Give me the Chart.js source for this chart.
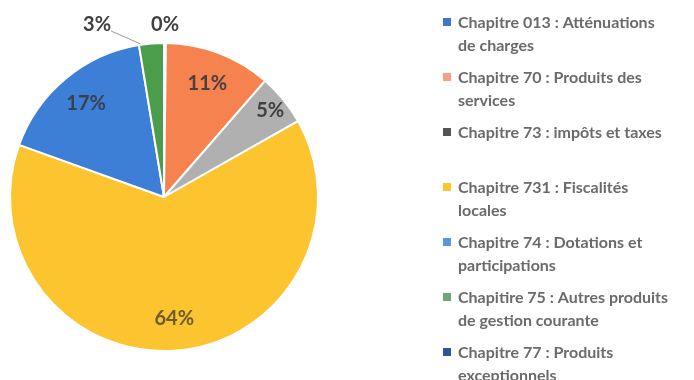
<!DOCTYPE html>
<html>
<head>
<meta charset="utf-8">
<script src="https://cdn.jsdelivr.net/npm/chart.js@4.4.0/dist/chart.umd.min.js"></script>
<style>
  html, body { margin: 0; padding: 0; background: #fff; }
  #wrap { width: 694px; height: 380px; position: relative; }
</style>
</head>
<body>
<div id="wrap"><canvas id="myChart" width="694" height="380"></canvas></div>
<script>
// données (en %)
var chapitres = ['Chapitre 013 : Atténuations de charges', 'Chapitre 70 : Produits des services',
    'Chapitre 73 : impôts et taxes', 'Chapitre 731 : Fiscalités locales',
    'Chapitre 74 : Dotations et participations', 'Chapitire 75 : Autres produits de gestion courante',
    'Chapitre 77 : Produits exceptionnels'];
var legendLines = [
    ['Chapitre 013 : Atténuations', 'de charges'],
    ['Chapitre 70 : Produits des', 'services'],
    ['Chapitre 73 : impôts et taxes', ''],
    ['Chapitre 731 : Fiscalités', 'locales'],
    ['Chapitre 74 : Dotations et', 'participations'],
    ['Chapitire 75 : Autres produits', 'de gestion courante'],
    ['Chapitre 77 : Produits', 'exceptionnels']
];
var valeurs = [0.2, 11.2, 5.4, 63.7, 16.9, 2.6, 0];
var couleurs = ['#3f74d2', '#f5824f', '#b0b0b0', '#fcc52f', '#3d7fd6', '#4b9c4b', '#2f5597'];
var legendCouleurs = ['#3f74d2', '#f7a088', '#555555', '#fcc52f', '#5b95e0', '#6fa86f', '#2f5597'];
var labelCouleurs = ['#404040', '#4a4040', '#404040', '#6e5a30', '#3a4050', '#404040', '#404040'];

// étiquettes de pourcentage
var pctLabels = {
    id: 'pctLabels',
    afterDatasetsDraw: function (chart) {
        var ctx = chart.ctx;
        var arcs = chart.getDatasetMeta(0).data;
        var data = chart.data.datasets[0].data;
        var total = data.reduce(function (a, b) { return a + b; }, 0);
        var placed = [];
        ctx.save();
        ctx.font = 'bold 20px Lato';
        ctx.textAlign = 'center';
        ctx.textBaseline = 'middle';
        arcs.forEach(function (arc, i) {
            if (data[i] <= 0) return;
            var pct = data[i] / total * 100;
            var txt = Math.round(pct) + '%';
            var mid = (arc.startAngle + arc.endAngle) / 2;
            var R = arc.outerRadius;
            var x, y;
            if (pct < 4) {
                x = arc.x + Math.cos(mid) * (R + 18);
                y = arc.y + Math.sin(mid) * (R + 18);
                var w = ctx.measureText(txt).width;
                placed.forEach(function (p) {
                    if (Math.abs(p.x - x) < (p.w + w) / 2 + 4 && Math.abs(p.y - y) < 20) {
                        x = p.x - p.w / 2 - 40 - w / 2;
                        y = p.y;
                        ctx.strokeStyle = '#9a9a9a';
                        ctx.lineWidth = 1;
                        ctx.beginPath();
                        ctx.moveTo(x + w / 2, y + 6);
                        ctx.lineTo(arc.x + Math.cos(arc.startAngle + 0.01) * (R + 1), arc.y + Math.sin(arc.startAngle + 0.01) * (R + 1));
                        ctx.stroke();
                    }
                });
                placed.push({ x: x, y: y, w: w });
            } else {
                var f = pct < 8 ? 0.89 : 0.79;
                x = arc.x + Math.cos(mid) * R * f;
                y = arc.y + Math.sin(mid) * R * f;
            }
            ctx.fillStyle = labelCouleurs[i];
            ctx.fillText(txt, x, y);
        });
        ctx.restore();
    }
};

// légende à droite, sur deux lignes
var legendeDroite = {
    id: 'legendeDroite',
    afterDraw: function (chart) {
        var ctx = chart.ctx;
        ctx.save();
        ctx.font = 'bold 16px Lato';
        ctx.textBaseline = 'alphabetic';
        ctx.textAlign = 'left';
        legendLines.forEach(function (lines, i) {
            var base = 28 + i * 55;
            ctx.fillStyle = legendCouleurs[i];
            ctx.fillRect(443, base - 10, 8, 8);
            ctx.fillStyle = '#6a6a6a';
            lines.forEach(function (l, j) {
                ctx.fillText(l, 458, base + j * 22.5);
            });
        });
        ctx.restore();
    }
};

var ctx = document.querySelector('#myChart');
var myPieChart = new Chart(ctx, {
    type: 'pie',
    data: {
        labels: chapitres,
        datasets: [{
            data: valeurs,
            backgroundColor: couleurs,
            borderColor: '#ffffff',
            borderWidth: 2,
            hoverOffset: 0
        }]
    },
    options: {
        responsive: false,
        animation: false,
        layout: { padding: { left: 9, top: 42, right: 375, bottom: 28 } },
        plugins: {
            legend: { display: false },
            tooltip: { enabled: false }
        }
    },
    plugins: [pctLabels, legendeDroite]
});
</script>
</body>
</html>
